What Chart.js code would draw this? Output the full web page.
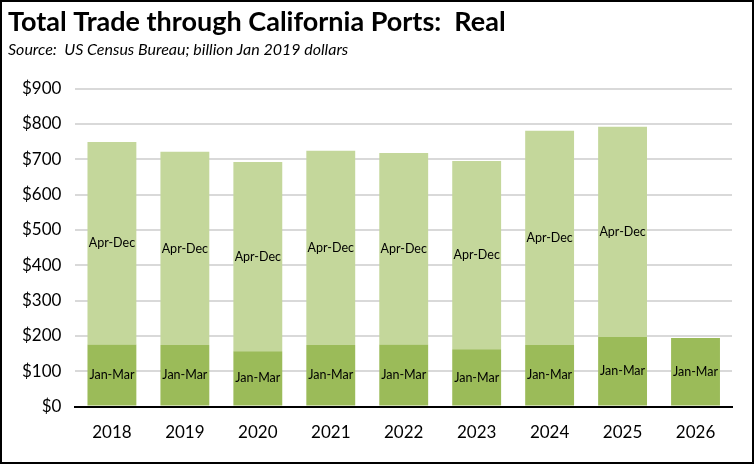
<!DOCTYPE html>
<html lang="en">
<head>
    <meta charset="UTF-8">
    <title>Total Trade through California Ports: Real</title>
    <script src="https://cdn.jsdelivr.net/npm/chart.js"></script>
    <style>
        body {
            margin: 0;
            padding: 0;
            background: #fff;
        }

        .frame {
            width: 754px;
            height: 464px;
            box-sizing: border-box;
            border: 2px solid #000;
            position: relative;
        }

        canvas {
            display: block;
        }
    </style>
</head>
<body>
    <div class="frame">
        <canvas id="myChart" width="750" height="460"></canvas>
    </div>

    <script>
        const years = ['2018', '2019', '2020', '2021', '2022', '2023', '2024', '2025', '2026'];
        const janMar = [176, 174, 157, 174, 176, 162, 174, 197, 194];
        const aprDec = [573, 547, 535, 550, 542, 533, 607, 595, null];
        const yTicks = [0, 100, 200, 300, 400, 500, 600, 700, 800, 900];

        const fontName = 'Lato, "Liberation Sans", sans-serif';

        // write the series name inside every segment
        const segmentLabels = {
            id: 'segmentLabels',
            afterDatasetsDraw(chart) {
                const ctx = chart.ctx;
                ctx.save();
                ctx.fillStyle = '#000';
                ctx.font = '12.5px ' + fontName;
                ctx.textAlign = 'center';
                ctx.textBaseline = 'middle';
                chart.data.datasets.forEach((ds, i) => {
                    chart.getDatasetMeta(i).data.forEach((bar, j) => {
                        if (ds.data[j] == null) return;
                        const mid = (bar.y + bar.base) / 2;
                        ctx.fillText(ds.label, bar.x, mid);
                    });
                });
                ctx.restore();
            }
        };

        const ctx = document.getElementById('myChart').getContext('2d');

        new Chart(ctx, {
            type: 'bar',
            data: {
                labels: years,
                datasets: [{
                    label: 'Jan-Mar',
                    data: janMar,
                    backgroundColor: '#9bbb59'
                }, {
                    label: 'Apr-Dec',
                    data: aprDec,
                    backgroundColor: '#c4d79b'
                }]
            },
            options: {
                responsive: false,
                animation: false,
                layout: {
                    padding: { left: 6, right: 20, top: 4, bottom: 11 }
                },
                datasets: {
                    bar: {
                        categoryPercentage: 1,
                        barPercentage: 0.67
                    }
                },
                scales: {
                    x: {
                        stacked: true,
                        grid: { display: false },
                        border: { color: '#000', width: 2 },
                        ticks: {
                            color: '#000',
                            padding: 8,
                            font: { family: fontName, size: 17 }
                        }
                    },
                    y: {
                        stacked: true,
                        min: 0,
                        max: 900,
                        afterBuildTicks: (axis) => {
                            axis.ticks = yTicks.map(v => ({ value: v }));
                        },
                        border: { display: false },
                        grid: { color: '#d9d9d9', lineWidth: 2, drawTicks: false },
                        ticks: {
                            color: '#000',
                            padding: 14,
                            font: { family: fontName, size: 17 },
                            callback: v => '$' + v
                        }
                    }
                },
                plugins: {
                    legend: { display: false },
                    tooltip: { enabled: false },
                    title: {
                        display: true,
                        text: 'Total Trade through California Ports:  Real',
                        align: 'start',
                        color: '#000',
                        font: { family: fontName, size: 27, weight: 'bold' },
                        padding: { top: 0, bottom: 2 }
                    },
                    subtitle: {
                        display: true,
                        text: 'Source:  US Census Bureau; billion Jan 2019 dollars',
                        align: 'start',
                        color: '#000',
                        font: { family: fontName, size: 16, style: 'italic' },
                        padding: { top: 0, bottom: 29 }
                    }
                }
            },
            plugins: [segmentLabels]
        });
    </script>
</body>
</html>
